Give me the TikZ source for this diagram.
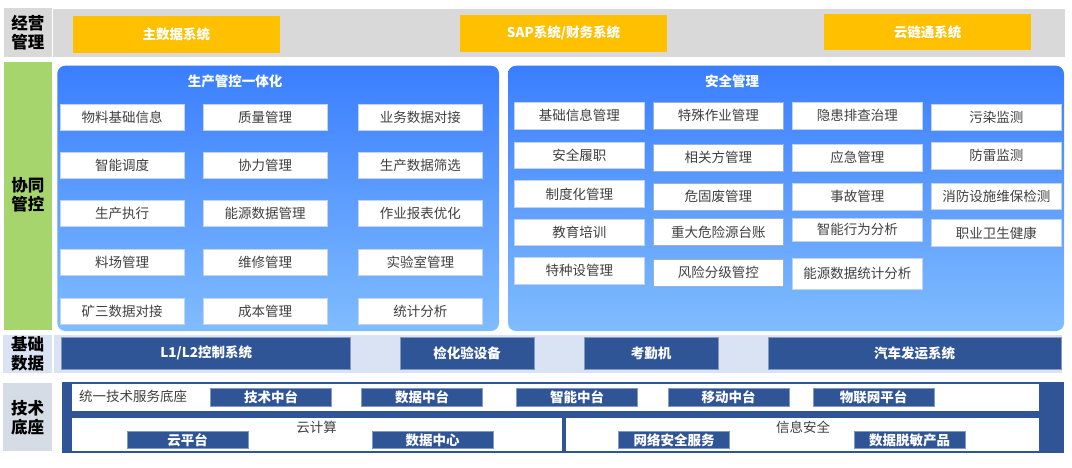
\documentclass[tikz,border=0pt]{standalone}
\usepackage{fontspec}
\setmainfont{Noto Sans CJK SC}
\definecolor{lgray}{HTML}{D9D9D9}
\definecolor{ylw}{HTML}{FFC000}
\definecolor{grn}{RGB}{165,213,108}
\definecolor{btop}{RGB}{58,126,255}
\definecolor{bbot}{RGB}{128,188,255}
\definecolor{dblue}{HTML}{2F5597}
\definecolor{lblue}{HTML}{DAE3F3}
\definecolor{tgray}{HTML}{D6DCE5}
\definecolor{txt}{HTML}{404040}
\definecolor{ibord}{HTML}{C5D3E8}
\definecolor{ibord2}{HTML}{9AB0D0}
\tikzset{
  lab/.style={inner sep=0, align=center, text=black, font=\fontsize{16.5}{19}\selectfont\bfseries, anchor=center},
  item/.style={draw=ibord, line width=0.6pt, fill=white, text=txt, inner sep=0, font=\fontsize{13.5}{16}\selectfont},
  ybox/.style={fill=ylw, text=white, inner sep=0, font=\fontsize{13.5}{16}\selectfont\bfseries},
  dbox/.style={fill=dblue, draw=dblue!60!white, line width=0.5pt, text=white, inner sep=0, font=\fontsize{13.5}{16}\selectfont\bfseries},
  ptitle/.style={text=white, inner sep=0, font=\fontsize{13.5}{16}\selectfont\bfseries},
  plain/.style={text=txt, inner sep=0, font=\fontsize{13.5}{16}\selectfont},
  panel/.style={rounded corners=8pt, top color=btop, bottom color=bbot, draw=none},
}
\begin{document}
\begin{tikzpicture}[x=1pt,y=-1pt]
\useasboundingbox (0,0) rectangle (1072,467);
% ---------- row 1: 经营管理
\fill[lgray] (4,8.3) rectangle (51.7,56.5);
\node[lab] (l1) at (28,32.5) {经营\\管理};
\fill[lgray] (53.3,9.3) rectangle (1065,56.5);
\node[ybox, minimum width=207pt, minimum height=36.5pt] (y1) at (176.3,34.3) {主数据系统};
\node[ybox, minimum width=207pt, minimum height=37pt] (y2) at (563.5,33) {SAP系统/财务系统};
\node[ybox, minimum width=207pt, minimum height=36pt] (y3) at (927.5,32) {云链通系统};
% ---------- row 2: 协同管控
\fill[grn] (4,61.7) rectangle (51.7,329.5);
\node[lab] (l2) at (28,195) {协同\\管控};
\shade[panel] (57.3,65.7) rectangle (499,331);
\shade[panel] (508,65.7) rectangle (1064,331);
\node[ptitle] (t1) at (235,81.5) {生产管控一体化};
\node[ptitle] (t2) at (732,81.5) {安全管理};
% left panel items
\tikzset{lit/.style={item, minimum width=124pt, minimum height=26pt}}
\node[lit] (a11) at (122,117) {物料基础信息};
\node[lit] (a12) at (265,117) {质量管理};
\node[lit] (a13) at (420.3,117) {业务数据对接};
\node[lit] (a21) at (122,165.5) {智能调度};
\node[lit] (a22) at (265,165.5) {协力管理};
\node[lit] (a23) at (420.3,165.5) {生产数据筛选};
\node[lit] (a31) at (122,213.7) {生产执行};
\node[lit] (a32) at (265,213.7) {能源数据管理};
\node[lit] (a33) at (420.3,213.7) {作业报表优化};
\node[lit] (a41) at (122,262.5) {料场管理};
\node[lit] (a42) at (265,262.5) {维修管理};
\node[lit] (a43) at (420.3,262.5) {实验室管理};
\node[lit] (a51) at (122,311) {矿三数据对接};
\node[lit] (a52) at (265,311) {成本管理};
\node[lit] (a53) at (420.3,311) {统计分析};
% right panel items
\tikzset{rit/.style={item, minimum width=130pt, minimum height=26.5pt},
         rit2/.style={rit, draw=ibord2}}
\node[rit] (b11) at (579.3,115.8) {基础信息管理};
\node[rit] (b21) at (579.3,155.3) {安全履职};
\node[rit] (b31) at (579.3,193.9) {制度化管理};
\node[rit] (b41) at (579.3,232.3) {教育培训};
\node[rit] (b51) at (579.3,270.8) {特种设管理};
\node[rit2] (b12) at (718.3,115.8) {特殊作业管理};
\node[rit2] (b22) at (718.3,157.7) {相关方管理};
\node[rit2] (b32) at (718.3,196.7) {危固废管理};
\node[rit2] (b42) at (718.3,232) {重大危险源台账};
\node[rit2] (b52) at (718.3,272.7) {风险分级管控};
\node[rit] (b13) at (857.3,115.8) {隐患排查治理};
\node[rit] (b23) at (857.3,157.7) {应急管理};
\node[rit] (b33) at (857.3,196.7) {事故管理};
\node[rit, minimum height=23pt] (b43) at (857.3,229.5) {智能行为分析};
\node[rit, minimum height=31pt] (b53) at (857.3,273.8) {能源数据统计分析};
\node[rit] (b14) at (996.3,117.3) {污染监测};
\node[rit] (b24) at (996.3,155.7) {防雷监测};
\node[rit] (b34) at (996.3,196.2) {消防设施维保检测};
\node[rit] (b44) at (996.3,232.8) {职业卫生健康};
% ---------- row 3: 基础数据
\fill[lblue] (3,335) rectangle (51.7,372.7);
\node[lab] (l3) at (27.5,354) {基础\\数据};
\fill[lblue] (54,335) rectangle (1062,372.7);
\node[dbox, minimum width=289pt, minimum height=32pt] (c1) at (206.2,353.3) {L1/L2控制系统};
\node[dbox, minimum width=134pt, minimum height=32pt] (c2) at (467,353.3) {检化验设备};
\node[dbox, minimum width=134pt, minimum height=32pt] (c3) at (651,353.3) {考勤机};
\node[dbox, minimum width=293pt, minimum height=32pt] (c4) at (914.5,353.3) {汽车发运系统};
% ---------- row 4: 技术底座
\fill[tgray] (3,382.7) rectangle (51.7,450.7);
\node[lab] (l4) at (27.5,417.5) {技术\\底座};
\fill[dblue] (61.7,381.7) rectangle (1064,452.7);
\fill[white] (71.7,384) rectangle (1039,410.7);
\fill[white] (71.7,418.3) rectangle (562,450.5);
\fill[white] (566,418.3) rectangle (1039,450.5);
\node[plain, anchor=west] (u0) at (79,396.5) {统一技术服务底座};
\tikzset{tb/.style={dbox, minimum width=121pt, minimum height=18pt}}
\node[tb] (u1) at (271.2,397.2) {技术中台};
\node[tb] (u2) at (422,397.5) {数据中台};
\node[tb] (u3) at (577,397.5) {智能中台};
\node[tb] (u4) at (728.5,397.5) {移动中台};
\node[tb] (u5) at (873.5,397.5) {物联网平台};
\node[plain] (v0) at (316.7,427.3) {云计算};
\node[tb, minimum height=17pt] (v1) at (187.5,440) {云平台};
\node[tb, minimum height=17pt] (v2) at (432.5,440) {数据中心};
\node[plain] (w0) at (803,427) {信息安全};
\node[tb, minimum width=111pt, minimum height=17pt] (w1) at (674,440) {网络安全服务};
\node[tb, minimum width=111pt, minimum height=17pt] (w2) at (909.5,440) {数据脱敏产品};
\end{tikzpicture}
\end{document}
